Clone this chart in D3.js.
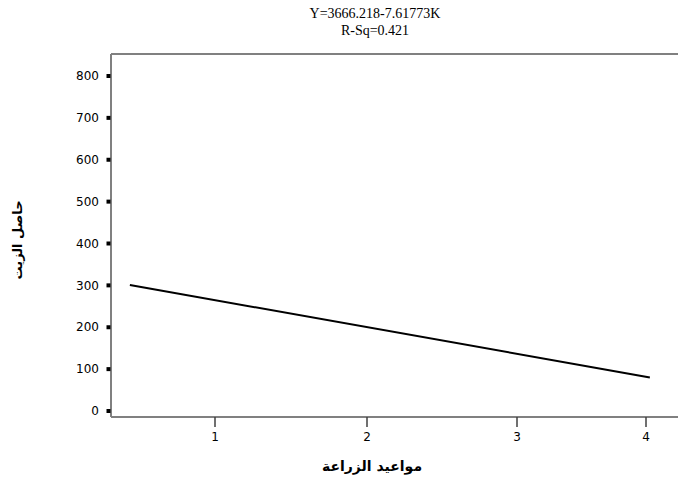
<!DOCTYPE html>
<html>
<head>
<meta charset="utf-8">
<script src="https://cdn.jsdelivr.net/npm/d3@7"></script>
<style>
html,body{margin:0;padding:0;background:#fff;}
svg{display:block;}
</style>
</head>
<body>
<svg id="chart" width="678" height="481"></svg>
<script>
// Data
const titleLines = ["Y=3666.218-7.61773K", "R-Sq=0.421"];
const xTicks = [1, 2, 3, 4];
const yTicks = [0, 100, 200, 300, 400, 500, 600, 700, 800];
const lineX = [0.44, 4.03];
const lineY = [301, 80];
const xLabel = "مواعيد الزراعة";
const yLabel = "حاصل الزيت";

const svg = d3.select("#chart");

// Scales (x axis ticks are unevenly spaced in the original)
const x = d3.scaleLinear().domain([1, 2, 3, 4]).range([215, 367, 517, 646]);
const y = d3.scaleLinear().domain([0, 800]).range([411, 76]);

const frame = {left: 111, top: 54, right: 678, bottom: 417};

// Frame
svg.append("line").attr("x1", frame.left).attr("x2", frame.right)
  .attr("y1", frame.top).attr("y2", frame.top)
  .attr("stroke", "#808080").attr("stroke-width", 2);
svg.append("line").attr("x1", frame.left).attr("x2", frame.left)
  .attr("y1", frame.top).attr("y2", frame.bottom)
  .attr("stroke", "#808080").attr("stroke-width", 2);
svg.append("line").attr("x1", frame.left).attr("x2", frame.right)
  .attr("y1", frame.bottom).attr("y2", frame.bottom)
  .attr("stroke", "#808080").attr("stroke-width", 2);

// Y ticks: small black squares
const yg = svg.append("g");
yTicks.forEach(v => {
  yg.append("rect").attr("x", 106.5).attr("y", y(v) - 2).attr("width", 4).attr("height", 4).attr("fill", "#000");
  yg.append("text").attr("x", 99).attr("y", y(v)).attr("dy", "0.35em")
    .attr("text-anchor", "end").attr("font-family", "DejaVu Sans, Verdana, sans-serif")
    .attr("font-size", 12).attr("fill", "#000").text(v);
});

// X ticks
const xg = svg.append("g");
xTicks.forEach(v => {
  xg.append("line").attr("x1", x(v)).attr("x2", x(v)).attr("y1", frame.bottom).attr("y2", frame.bottom + 10)
    .attr("stroke", "#404040").attr("stroke-width", 1.5);
  xg.append("text").attr("x", x(v)).attr("y", 441)
    .attr("text-anchor", "middle").attr("font-family", "DejaVu Sans, Verdana, sans-serif")
    .attr("font-size", 12).attr("fill", "#000").text(v);
});

// Regression line
const pts = lineX.map((d, i) => [x(d), y(lineY[i])]);
svg.append("path").attr("d", d3.line()(pts))
  .attr("fill", "none").attr("stroke", "#000").attr("stroke-width", 2);

// Title
titleLines.forEach((t, i) => {
  svg.append("text").attr("x", 375).attr("y", 18 + i * 17)
    .attr("text-anchor", "middle").attr("font-family", "Liberation Serif, Times New Roman, serif")
    .attr("font-size", 14).attr("fill", "#000").text(t);
});

// Axis labels
svg.append("text").attr("x", 372).attr("y", 471)
  .attr("text-anchor", "middle").attr("font-family", "DejaVu Sans, Noto Sans, sans-serif")
  .attr("font-weight", "bold").attr("font-size", 14).attr("direction", "rtl").attr("fill", "#000").text(xLabel);
svg.append("text").attr("transform", "translate(22,240) rotate(-90)")
  .attr("text-anchor", "middle").attr("font-family", "DejaVu Sans, Noto Sans, sans-serif")
  .attr("font-weight", "bold").attr("font-size", 13).attr("direction", "rtl").attr("fill", "#000").text(yLabel);
</script>
</body>
</html>
